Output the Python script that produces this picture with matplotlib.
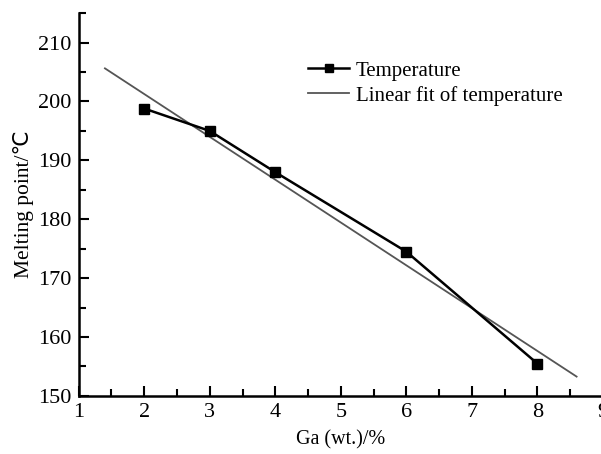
import numpy as np
import matplotlib.pyplot as plt
from matplotlib.ticker import MultipleLocator

# Ga content (wt.%) and measured melting point
ga = [2, 3, 4, 6, 8]
temp = [198.8, 195.0, 188.0, 174.5, 155.5]

# linear fit drawn over a slightly wider range
fit_range = [1.4, 8.6]

plt.rcParams['font.family'] = ['Liberation Serif', 'DejaVu Serif']

fig = plt.figure(figsize=(6.01, 4.54), dpi=100)
ax = fig.add_axes([0.131, 0.128, 0.872, 0.843])

k, b = np.polyfit(ga, temp, 1)
xf = np.array(fit_range)
ax.plot(xf, k * xf + b, color='#555555', lw=1.3, label='Linear fit of temperature')
ax.plot(ga, temp, color='black', lw=1.8, marker='s', ms=7, mfc='black', mec='black',
        label='Temperature')

ax.set_xlim(1, 9)
ax.set_ylim(150, 215)
ax.xaxis.set_major_locator(MultipleLocator(1))
ax.xaxis.set_minor_locator(MultipleLocator(0.5))
ax.yaxis.set_major_locator(MultipleLocator(10))
ax.yaxis.set_minor_locator(MultipleLocator(5))
ax.tick_params(which='both', direction='in', labelsize=16, width=1.5, pad=5)
ax.tick_params(which='major', length=7)
ax.tick_params(which='minor', length=5)
ax.spines['top'].set_visible(False)
ax.spines['right'].set_visible(False)
for s in ('left', 'bottom'):
    ax.spines[s].set_linewidth(1.8)

ax.set_xlabel('Ga (wt.)/%', fontsize=14.5, labelpad=6)
ax.set_ylabel('Melting point/\u2103', fontsize=15.5, family=['Liberation Serif', 'DejaVu Sans'], labelpad=3)

h, l = ax.get_legend_handles_labels()
ax.legend(h[::-1], l[::-1], loc='upper left', bbox_to_anchor=(0.437, 0.875), frameon=False,
          fontsize=15, handlelength=2.0, handletextpad=0.3, labelspacing=0.25,
          borderpad=0, borderaxespad=0, markerscale=0.75)

fig.savefig('out.png', dpi=100)
